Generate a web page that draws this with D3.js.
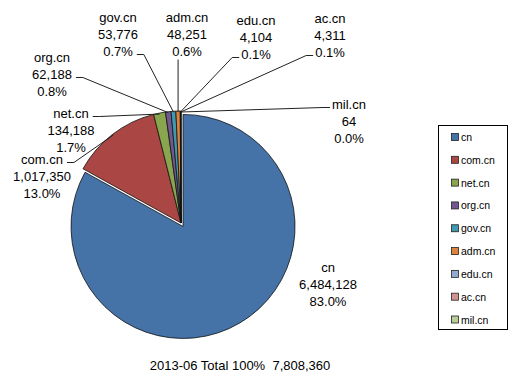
<!DOCTYPE html>
<html>
  <head>
    <meta charset="utf-8">
    <style>
      body { margin: 0; background: #fff; }
      text { font-family: "Liberation Sans", Arial, sans-serif; fill: #000; }
      .lbl { font-size: 13px; }
      .leg { font-size: 10.5px; }
      .cap { white-space: pre; }
      .leader { fill: none; stroke: #222; stroke-width: 1px; }
    </style>
  </head>
  <body>
    <div id="chart"></div>
    <script src="https://d3js.org/d3.v7.min.js"></script>
    <script type="text/javascript">
      // data
      var categories = ["cn", "com.cn", "net.cn", "org.cn", "gov.cn", "adm.cn", "edu.cn", "ac.cn", "mil.cn"];
      var values = [6484128, 1017350, 134188, 62188, 53776, 48251, 4104, 4311, 64];
      var percents = ["83.0%", "13.0%", "1.7%", "0.8%", "0.7%", "0.6%", "0.1%", "0.1%", "0.0%"];
      var totalLabel = "2013-06 Total 100%  7,808,360";

      var colors = ["#4572A7", "#AA4643", "#89A54E", "#71588F", "#4198AF", "#DB843D", "#93A9CF", "#D19392", "#B9CD96"];

      // label layout: centre of first text line, and where the leader hooks on
      var labelLayout = [
        {x: 328, y: 267, hook: null},
        {x: 42,  y: 159, hook: {line: 0, side: "r"}},
        {x: 71,  y: 113, hook: {line: 0, side: "r"}},
        {x: 52,  y: 57,  hook: {line: 1, side: "r"}},
        {x: 118, y: 17,  hook: {line: 2, side: "r"}},
        {x: 187, y: 17,  hook: {line: 2, side: "b"}},
        {x: 256, y: 20,  hook: {line: 2, side: "l"}},
        {x: 330, y: 18,  hook: {line: 2, side: "l"}},
        {x: 349, y: 104, hook: {line: 0, side: "l"}}
      ];

      var width = 525, height = 375,
          cx = 181, cy = 223, radius = 112,
          explode = 4, lineH = 17;

      var svg = d3.select("#chart").append("svg")
        .attr("width", width)
        .attr("height", height);

      var fmt = d3.format(",");

      var data = categories.map(function(c, i) {
        return {name: c, value: values[i], pct: percents[i], color: colors[i], layout: labelLayout[i]};
      });

      var pie = d3.pie()
        .sort(null)
        .value(function(d) { return d.value; });

      var arc = d3.arc().innerRadius(0).outerRadius(radius);

      var arcs = pie(data);

      // slice offset (only cn is pulled out)
      function offset(a, i) {
        if (i !== 0) return [0, 0];
        var m = (a.startAngle + a.endAngle) / 2;
        return [Math.sin(m) * explode, -Math.cos(m) * explode];
      }

      var g = svg.append("g")
        .attr("transform", "translate(" + cx + "," + cy + ")");

      g.selectAll("path.slice")
        .data(arcs)
        .enter().append("path")
        .attr("class", "slice")
        .attr("transform", function(d, i) { var o = offset(d, i); return "translate(" + o[0] + "," + o[1] + ")"; })
        .attr("d", arc)
        .attr("fill", function(d) { return d.data.color; })
        .attr("stroke", "#111")
        .attr("stroke-width", 0.8)
        .attr("stroke-linejoin", "round");

      // labels
      var labels = svg.append("g");

      arcs.forEach(function(a, i) {
        var d = a.data, L = d.layout;
        var lines = [d.name, fmt(d.value), d.pct];
        var t = labels.append("text")
          .attr("class", "lbl")
          .attr("text-anchor", "middle");
        var spans = lines.map(function(s, k) {
          return t.append("tspan")
            .attr("x", L.x)
            .attr("y", L.y + k * lineH + 4.5)
            .text(s);
        });

        if (!L.hook) return;
        var m = (a.startAngle + a.endAngle) / 2;
        var ex = cx + Math.sin(m) * (radius - 1),
            ey = cy - Math.cos(m) * (radius - 1);
        var sp = spans[L.hook.line].node();
        var w = sp.getComputedTextLength();
        var ly = L.y + L.hook.line * lineH + 3.5;
        var pts;
        if (L.hook.side === "r") {
          var x0 = L.x + w / 2 + 4;
          pts = [[x0, ly], [x0 + 7, ly], [ex, ey]];
        } else if (L.hook.side === "l") {
          var x1 = L.x - w / 2 - 2;
          pts = [[x1, ly], [x1 - 7, ly], [ex, ey]];
        } else {
          pts = [[ex, ly + 5], [ex, ey]];
        }
        labels.append("path")
          .attr("class", "leader")
          .attr("d", d3.line()(pts));
      });

      // legend
      var legend = svg.append("g");
      legend.append("rect")
        .attr("x", 438.5).attr("y", 125.5)
        .attr("width", 69).attr("height", 204)
        .attr("fill", "#fff")
        .attr("stroke", "#000");

      var ly = d3.scalePoint()
        .domain(categories)
        .range([137, 319.5]);

      var items = legend.selectAll("g.item")
        .data(data)
        .enter().append("g")
        .attr("class", "item")
        .attr("transform", function(d) { return "translate(451," + ly(d.name) + ")"; });

      items.append("rect")
        .attr("x", 0.5).attr("y", -3.5)
        .attr("width", 7).attr("height", 7)
        .attr("fill", function(d) { return d.color; })
        .attr("stroke", "#222")
        .attr("stroke-width", 0.8);

      items.append("text")
        .attr("class", "leg")
        .attr("x", 10)
        .attr("y", 4)
        .text(function(d) { return d.name; });

      // bottom caption
      svg.append("text")
        .attr("class", "lbl cap")
        .attr("x", 240)
        .attr("y", 369.5)
        .attr("text-anchor", "middle")
        .text(totalLabel);
    </script>
  </body>
</html>
